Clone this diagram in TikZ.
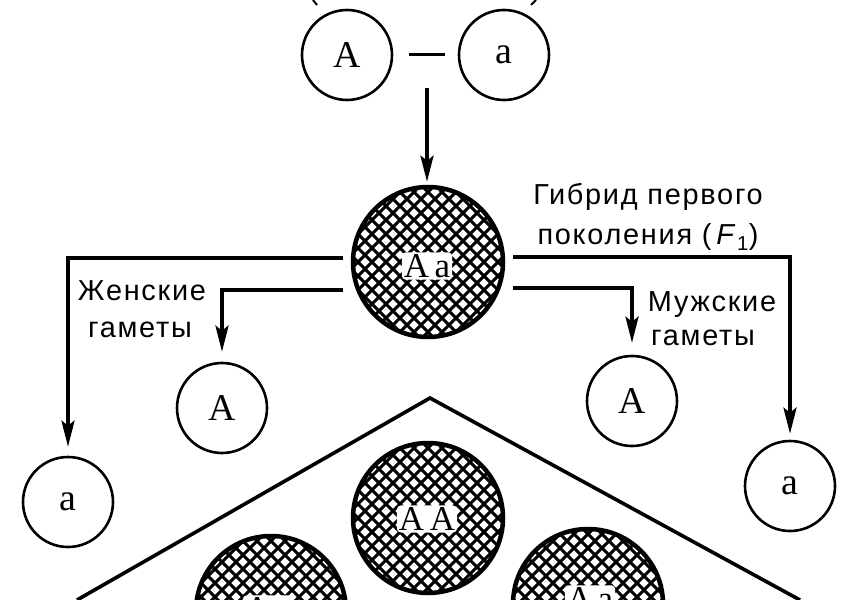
\documentclass[tikz,border=0pt]{standalone}
\usepackage{fontspec}
\setmainfont{Liberation Serif}
\setsansfont{Liberation Sans}
\usetikzlibrary{arrows.meta}

\begin{document}
\begin{tikzpicture}[x=1bp, y=-1bp,
    gamete/.style={circle, draw, line width=2.6bp, minimum size=90bp, inner sep=0pt,
        font=\fontsize{38}{38}\selectfont},
    zygote/.style={circle, draw, line width=4.5bp, minimum size=150bp, inner sep=0pt},
    geno/.style={fill=white, inner sep=2bp, rounded corners=4bp,
        font=\fontsize{35}{35}\selectfont},
    caption/.style={anchor=base,
        font=\sffamily\fontsize{29}{29}\selectfont\addfontfeature{LetterSpace=6}},
    arr/.style={line width=3.6bp, -{Stealth[length=26bp, width=13bp, inset=5bp]}}]

    \useasboundingbox (0,0) rectangle (865,600);

    % Cross-hatched fill of the zygotes
    \foreach \cx/\cy in {428/262, 428/518, 271/611, 588/604} {
        \begin{scope}
            \clip (\cx,\cy) circle[radius=75];
            \foreach \k in {-9,...,9} {
                \draw[line width=2.9bp] (\cx+\k*14-120, \cy-120) -- ++(240,240);
                \draw[line width=2.9bp] (\cx+\k*14-120, \cy+120) -- ++(240,-240);
            }
        \end{scope}
    }

    % Parents
    \draw[line width=2bp] (313,0) -- (317,5);
    \draw[line width=2bp] (536,0) -- (531,5);
    \node[gamete] (pA) at (347,55) {A};
    \node[gamete] (pa) at (504,55) {a};
    \draw[line width=3bp, shorten <=16bp, shorten >=13bp] (pA.east) -- (pa.west);
    \coordinate (cross) at (427,88);

    % Hybrid of the first generation
    \node[zygote] (F1) at (428,262) {};
    \node[geno] (F1txt) at (427,266) {A\,a};
    \draw[arr, shorten >=3bp] (cross) -- (cross |- F1.north);
    \node[caption] (hyb1) at (648,205) {Гибрид первого};
    \node[caption] (hyb2) at (648,245) {поколения (\,\textit{F}\textsubscript{1})};

    % Gametes
    \node[gamete] (fa) at (68,502) {a};
    \node[gamete] (fA) at (222,408) {A};
    \node[gamete] (mA) at (632,401) {A};
    \node[gamete] (ma) at (790,486) {a};

    \draw[arr, shorten <=8bp, shorten >=9bp] ([yshift=4bp]F1.west) -| (fa);
    \draw[arr, shorten <=8bp, shorten >=10bp] ([yshift=-28bp]F1.west) -| (fA);
    \draw[arr, shorten <=8bp, shorten >=12bp] ([yshift=-26bp]F1.east) -| (mA);
    \draw[arr, shorten <=8bp, shorten >=6bp] ([yshift=5bp]F1.east) -| (ma);

    \node[caption] (fem1) at (142,300) {Женские};
    \node[caption] (fem2) at (140,337) {гаметы};
    \node[caption] (mal1) at (712,311) {Мужские};
    \node[caption] (mal2) at (703,345) {гаметы};

    % Second generation
    \draw[line width=3.6bp, line join=miter] (77,600) -- (430,398) -- (800,600);
    \node[zygote] (AA) at (428,518) {};
    \node[geno] (AAtxt) at (427,519) {A\,A};
    \node[zygote] (Aa1) at (271,611) {};
    \node[geno] (Aa1txt) at (268,609) {A\,a};
    \node[zygote] (Aa2) at (588,604) {};
    \node[geno] (Aa2txt) at (590,599) {A\,a};
\end{tikzpicture}
\end{document}
